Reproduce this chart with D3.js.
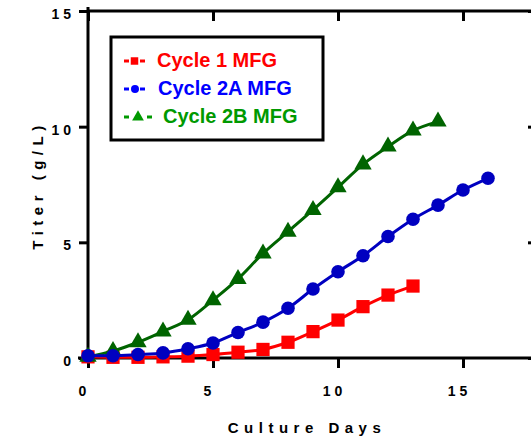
<!DOCTYPE html>
<html><head><meta charset="utf-8">
<script src="https://cdn.jsdelivr.net/npm/d3@7"></script>
<style>
body{margin:0;background:#fff;}
text{font-family:"Liberation Sans",Arial,sans-serif;font-weight:bold;}
</style></head>
<body>
<svg id="c" width="531" height="436"></svg>
<script>
const days1 = [0,1,2,3,4,5,6,7,8,9,10,11,12,13];
const cycle1 = [0.05,0.03,0.03,0.05,0.08,0.15,0.25,0.37,0.68,1.14,1.64,2.22,2.72,3.11];
const days2A = [0,1,2,3,4,5,6,7,8,9,10,11,12,13,14,15,16];
const cycle2A = [0.1,0.1,0.15,0.22,0.4,0.65,1.1,1.55,2.15,2.98,3.73,4.42,5.25,6.0,6.61,7.26,7.77];
const days2B = [0,1,2,3,4,5,6,7,8,9,10,11,12,13,14];
const cycle2B = [0.05,0.3,0.68,1.15,1.65,2.5,3.42,4.52,5.46,6.4,7.38,8.37,9.14,9.83,10.22];
const xTicks = [0,5,10,15];
const yTicks = [0,5,10,15];
const xTickLabels = ["0","5","1 0","1 5"];
const yTickLabels = ["0","5","1 0","1 5"];
const seriesNames = ["Cycle 1 MFG","Cycle 2A MFG","Cycle 2B MFG"];

const svg = d3.select("#c");
const x = d3.scaleLinear().domain([0,18]).range([88,538]);
const y = d3.scaleLinear().domain([0,15]).range([358,11]);

const axW = 3;
const gBottom = svg.append("g").attr("transform",`translate(0,${y(0)})`)
  .call(d3.axisBottom(x).tickValues(xTicks).tickSize(10).tickFormat((d,i)=>xTickLabels[i]));
const gLeft = svg.append("g").attr("transform",`translate(${x(0)},0)`)
  .call(d3.axisLeft(y).tickValues(yTicks).tickSize(9).tickFormat((d,i)=>yTickLabels[i]));
const gTop = svg.append("g").attr("transform",`translate(0,${y(15)})`)
  .call(d3.axisBottom(x).tickValues(xTicks).tickSize(10).tickFormat(""));
const gRight = svg.append("g").attr("transform",`translate(${x(18)},0)`)
  .call(d3.axisLeft(y).tickValues(yTicks).tickSize(10).tickFormat(""));
[gBottom,gLeft,gTop,gRight].forEach(g=>{
  g.select(".domain").remove();
  g.selectAll(".tick line").attr("stroke","#000").attr("stroke-width",axW);
  g.selectAll(".tick text").attr("fill","#000").attr("font-size",14).attr("font-family",null);
});
gTop.selectAll(".tick text").remove();
gRight.selectAll(".tick text").remove();
svg.append("line").attr("x1",78).attr("x2",540).attr("y1",y(0)).attr("y2",y(0)).attr("stroke","#000").attr("stroke-width",axW);
svg.append("line").attr("x1",x(0)).attr("x2",540).attr("y1",y(15)).attr("y2",y(15)).attr("stroke","#000").attr("stroke-width",axW);
svg.append("line").attr("x1",x(0)).attr("x2",x(0)).attr("y1",7).attr("y2",y(0)).attr("stroke","#000").attr("stroke-width",axW);
gBottom.selectAll(".tick text").attr("y",28).attr("dx",-6);
gLeft.selectAll(".tick text").attr("x",-17).attr("y",3);

svg.append("text").attr("x",307).attr("y",433).attr("text-anchor","middle")
  .attr("font-size",15).attr("letter-spacing",5.5).text("Culture Days");
svg.append("text").attr("transform","translate(43,185) rotate(-90)").attr("text-anchor","middle")
  .attr("font-size",15).attr("letter-spacing",5.5).text("Titer (g/L)");

const series = [
  {d:days1,v:cycle1,line:"#ff0000",fill:"#ff0000",sym:d3.symbolSquare,size:175},
  {d:days2B,v:cycle2B,line:"#006400",fill:"#006400",sym:d3.symbolTriangle,size:130},
  {d:days2A,v:cycle2A,line:"#0000c0",fill:"#0000c0",sym:d3.symbolCircle,size:145}
];
series.forEach(s=>{
  const pts = s.d.map((d,i)=>[d,s.v[i]]);
  svg.append("path").datum(pts)
    .attr("d",d3.line().x(p=>x(p[0])).y(p=>y(p[1])).curve(d3.curveMonotoneX))
    .attr("fill","none").attr("stroke",s.line).attr("stroke-width",3);
  svg.append("g").selectAll("path").data(pts).join("path")
    .attr("transform",p=>`translate(${x(p[0])},${y(p[1])})`)
    .attr("d",d3.symbol().type(s.sym).size(s.size)())
    .attr("fill",s.fill);
});

const lg = svg.append("g");
lg.append("rect").attr("x",111).attr("y",37).attr("width",212).attr("height",103)
  .attr("fill","#fff").attr("stroke","#000").attr("stroke-width",3);
const legColors = ["#ff0000","#0000ff","#009900"];
const legSyms = [d3.symbolSquare,d3.symbolCircle,d3.symbolTriangle];
const legSizes = [56,50,60];
const legSymX = [134.5,135,138];
const legDash2 = [140,140,147];
const legTextX = [157,158,163];
seriesNames.forEach((n,i)=>{
  const by = 67 + i*28;
  const cy = by - 6;
  const row = lg.append("g");
  row.append("line").attr("x1",124).attr("x2",129).attr("y1",cy).attr("y2",cy).attr("stroke",legColors[i]).attr("stroke-width",3);
  row.append("line").attr("x1",legDash2[i]).attr("x2",legDash2[i]+5).attr("y1",cy).attr("y2",cy).attr("stroke",legColors[i]).attr("stroke-width",3);
  row.append("path").attr("transform",`translate(${legSymX[i]},${cy})`).attr("d",d3.symbol().type(legSyms[i]).size(legSizes[i])()).attr("fill",legColors[i]);
  row.append("text").attr("x",legTextX[i]).attr("y",by).attr("font-size",20).attr("fill",legColors[i]).text(n);
});
</script>
</body></html>
